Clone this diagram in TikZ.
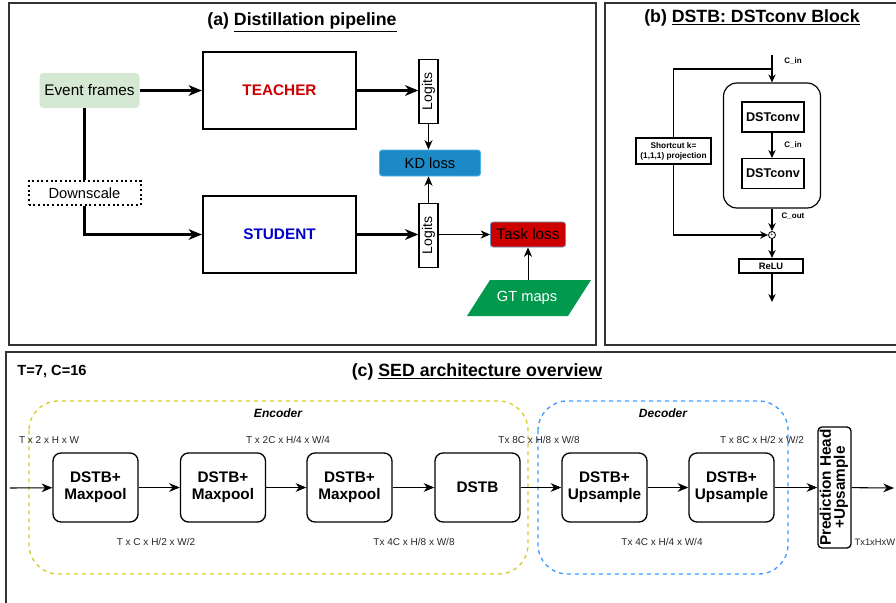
\documentclass[tikz,border=0pt]{standalone}
\usepackage{fontspec}
\setmainfont{Liberation Sans}
\usepackage{graphicx}
\usetikzlibrary{arrows.meta}

\definecolor{framegray}{HTML}{333333}
\definecolor{evgreen}{HTML}{D5E8D4}
\definecolor{kdblue}{HTML}{1B8AC6}
\definecolor{kdedge}{HTML}{4FB3E8}
\definecolor{taskred}{HTML}{CC0000}
\definecolor{taskedge}{HTML}{6C8EBF}
\definecolor{gtgreen}{HTML}{00994D}
\definecolor{teachred}{HTML}{CC0000}
\definecolor{studblue}{HTML}{0000CC}
\definecolor{encyellow}{HTML}{D8CC2A}
\definecolor{decblue}{HTML}{3D9BFF}

\begin{document}
\begin{tikzpicture}[x=0.75pt, y=-0.75pt,
    panel/.style={draw=framegray, line width=1.1pt},
    title/.style={font=\fontsize{13.3}{15}\selectfont\bfseries},
    netbox/.style={draw, line width=1.6pt, inner sep=0pt, font=\fontsize{11.5}{13}\selectfont\bfseries},
    logitbox/.style={draw, line width=0.9pt, inner sep=0pt, minimum width=19*0.75pt, minimum height=64*0.75pt, font=\fontsize{10.5}{12}\selectfont},
    bigarrow/.style={line width=1.6pt, -{Stealth[length=10pt, width=8pt, inset=3pt]}},
    smallarrow/.style={line width=0.7pt, -{Stealth[length=7pt, width=6pt, inset=2pt]}},
    bline/.style={line width=1.1pt, -{Stealth[length=6pt, width=5.5pt, inset=2pt]}},
    convbox/.style={draw, line width=0.8pt, inner sep=0pt, minimum width=62*0.75pt, minimum height=30*0.75pt, font=\fontsize{9.5}{11}\selectfont\bfseries},
    tinylabel/.style={font=\fontsize{6}{7}\selectfont\bfseries},
    sedblock/.style={draw, line width=1pt, rounded corners=6pt, inner sep=0pt, minimum width=85*0.75pt, minimum height=69*0.75pt, align=center, font=\fontsize{11.5}{13}\selectfont\bfseries},
    sizelabel/.style={font=\fontsize{7.5}{9}\selectfont, text=black!85},
    sedarrow/.style={line width=0.8pt, -{Stealth[length=8pt, width=6.5pt, inset=2.5pt]}}
  ]
    \useasboundingbox (0,0) rectangle (896,603);

    % Panel (a): distillation pipeline
    \draw[panel] (9,3) rectangle (596,345);
    \node[title] (titleA) at (302,22) {(a) \underline{Distillation pipeline}};

    \node[fill=evgreen, rounded corners=3pt, inner sep=0pt, minimum width=100*0.75pt, minimum height=35*0.75pt,
          font=\fontsize{11.5}{13}\selectfont] (event) at (89.5,90.5) {Event frames};
    \node[draw, dotted, line width=1.5pt, inner sep=0pt, minimum width=112*0.75pt, minimum height=24*0.75pt,
          font=\fontsize{11}{13}\selectfont] (downscale) at (84.5,193) {Downscale};
    \node[netbox, minimum width=153*0.75pt, minimum height=77*0.75pt] (teacher) at (279.5,90.5) {\textcolor{teachred}{TEACHER}};
    \node[netbox, minimum width=153*0.75pt, minimum height=77*0.75pt] (student) at (279.5,234.5) {\textcolor{studblue}{STUDENT}};
    \node[logitbox] (logitsT) at (428.5,91.5) {\rotatebox{90}{Logits}};
    \node[logitbox] (logitsS) at (428.5,235.5) {\rotatebox{90}{Logits}};
    \node[fill=kdblue, draw=kdedge, line width=0.6pt, rounded corners=2pt, inner sep=0pt, minimum width=101*0.75pt,
          minimum height=26*0.75pt, font=\fontsize{11}{13}\selectfont] (kd) at (430,163) {KD loss};
    \node[fill=taskred, draw=taskedge, line width=0.6pt, rounded corners=2pt, inner sep=0pt, minimum width=75*0.75pt,
          minimum height=25*0.75pt, font=\fontsize{11.5}{13}\selectfont] (task) at (528,234.5) {Task loss};
    \fill[gtgreen] (467,316) -- (490,280) -- (591,280) -- (568,316) -- cycle; % GT parallelogram
    \node[minimum height=36*0.75pt, inner sep=0pt, text=white, font=\fontsize{11}{13}\selectfont] (gt) at (527,298) {GT maps};

    % Arrows of panel (a)
    \draw[bigarrow] (event.east) -- (teacher.west |- event.east);
    \draw[line width=1.6pt] (downscale.north) -- (downscale.north |- event.south);
    \draw[bigarrow] (downscale.south) |- (student.west);
    \draw[bigarrow] (teacher.east) -- (logitsT.west |- teacher.east);
    \draw[bigarrow] (student.east) -- (logitsS.west |- student.east);
    \draw[smallarrow] (logitsT.south) -- (kd.north -| logitsT.south);
    \draw[smallarrow] (logitsS.north) -- (kd.south -| logitsS.north);
    \draw[smallarrow] (logitsS.east |- task.west) -- (task.west);
    \draw[smallarrow] (gt.north -| task.south) -- (task.south);

    % Panel (b): DSTB block
    \draw[panel] (605,3) rectangle (900,345);
    \node[title] (titleB) at (752,18) {(b) \underline{DSTB: DSTconv Block}};

    \coordinate (cin) at (772,55);
    \coordinate (split) at (772,69);
    \node[draw, line width=0.9pt, rounded corners=10pt, minimum width=97*0.75pt, minimum height=125*0.75pt] (dstb) at (772,145.5) {};
    \node[convbox] (convA) at (773,117) {DSTconv};
    \node[convbox] (convB) at (773,173.5) {DSTconv};
    \node[draw, line width=0.8pt, inner sep=0pt, minimum width=75*0.75pt, minimum height=26*0.75pt, align=center,
          font=\fontsize{6.2}{7.5}\selectfont\bfseries] (shortcut) at (673.5,151) {Shortcut k=\\(1,1,1) projection};
    \node[draw, circle, line width=0.6pt, inner sep=0pt, minimum size=7*0.75pt, font=\fontsize{4}{4}\selectfont] (add) at (772,235) {+};
    \node[draw, line width=1.6pt, inner sep=0pt, minimum width=64*0.75pt, minimum height=14*0.75pt,
          font=\fontsize{7}{8}\selectfont\bfseries] (relu) at (771,266) {ReLU};
    \coordinate (bout) at (772,302);

    \draw[bline] (cin) -- (dstb.north -| cin);
    \draw[line width=1.1pt] (split) -| (shortcut.north);
    \draw[bline] (shortcut.south) |- (add.west);
    \draw[bline] (convA.south -| cin) -- (convB.north -| cin);
    \draw[bline] (dstb.south -| add.north) -- (add.north);
    \draw[bline] (add.south) -- (relu.north -| add.south);
    \draw[bline] (relu.south -| bout) -- (bout);

    \node[tinylabel] at (793,61) {C\_in};
    \node[tinylabel] at (793,145) {C\_in};
    \node[tinylabel] at (793,216) {C\_out};

    % Panel (c): SED architecture
    \draw[panel] (6,352) rectangle (900,610);
    \node[font=\fontsize{11}{13}\selectfont\bfseries] (tc) at (52,372) {T=7, C=16};
    \node[title] (titleC) at (477,372) {(c) \underline{SED architecture overview}};

    \draw[encyellow, line width=1pt, dashed, rounded corners=22pt] (29,401) rectangle (528,574);
    \draw[decblue, line width=1pt, dashed, rounded corners=22pt] (538,401) rectangle (788,574);
    \node[font=\fontsize{9}{10}\selectfont\bfseries\itshape] (enc) at (278,413) {Encoder};
    \node[font=\fontsize{9}{10}\selectfont\bfseries\itshape] (dec) at (663,413) {Decoder};

    \coordinate (sedin) at (10,488);
    \node[sedblock] (b1) at (95.5,487.5) {DSTB+\\Maxpool};
    \node[sedblock] (b2) at (223,487.5) {DSTB+\\Maxpool};
    \node[sedblock] (b3) at (349.5,487.5) {DSTB+\\Maxpool};
    \node[sedblock] (b4) at (477.5,487.5) {DSTB};
    \node[sedblock] (b5) at (604.5,487.5) {DSTB+\\Upsample};
    \node[sedblock] (b6) at (731.5,487.5) {DSTB+\\Upsample};
    \node[draw, line width=1pt, rounded corners=3pt, inner sep=0pt, minimum width=33*0.75pt, minimum height=121*0.75pt,
          font=\fontsize{11.5}{11}\selectfont\bfseries] (head) at (834.5,487.5)
          {\rotatebox{90}{\begin{tabular}{@{}c@{}}Prediction Head\\[-1pt]+Upsample\end{tabular}}};
    \coordinate (sedout) at (894,488);

    \draw[sedarrow] (sedin) -- (b1);
    \draw[sedarrow] (b1) -- (b2);
    \draw[sedarrow] (b2) -- (b3);
    \draw[sedarrow] (b3) -- (b4);
    \draw[sedarrow] (b4) -- (b5);
    \draw[sedarrow] (b5) -- (b6);
    \draw[sedarrow] (b6) -- (head);
    \draw[sedarrow] (head) -- (sedout);

    % Tensor sizes
    \node[sizelabel] at (49,440) {T x 2 x H x W};
    \node[sizelabel] at (156,542) {T x C x H/2 x W/2};
    \node[sizelabel] at (288,440) {T x 2C x H/4 x W/4};
    \node[sizelabel] at (414,542) {Tx 4C x H/8 x W/8};
    \node[sizelabel] at (539,440) {Tx 8C x H/8 x W/8};
    \node[sizelabel] at (662,542) {Tx 4C x H/4 x W/4};
    \node[sizelabel] at (762,440) {T x 8C x H/2 x W/2};
    \node[sizelabel, font=\fontsize{7}{8}\selectfont, anchor=east, inner sep=0.5pt] at (896,542) {Tx1xHxW};
\end{tikzpicture}
\end{document}
